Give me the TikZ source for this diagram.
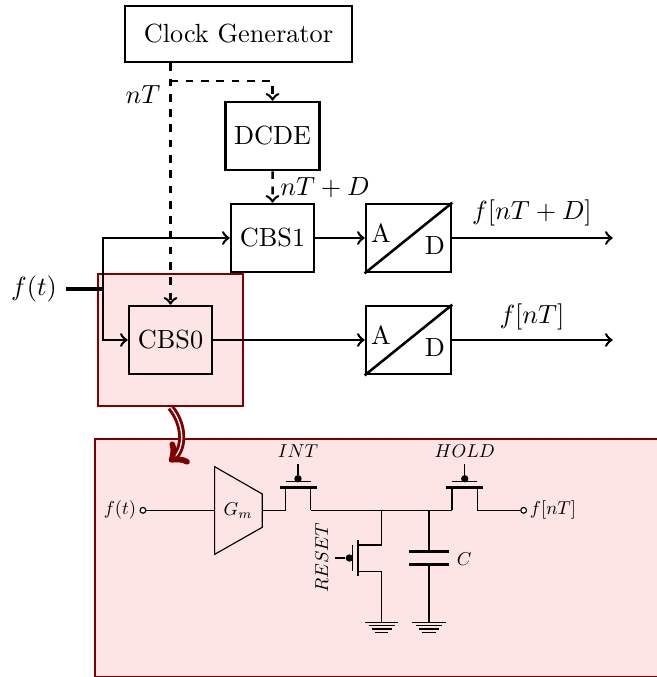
\documentclass[tikz,border=0pt]{standalone}
\usepackage{amsmath, amssymb}
\usepackage{tikz}
\definecolor{cbsfill}{RGB}{253,228,229}
\definecolor{cbsline}{RGB}{128,0,0}
\tikzset{
  every node/.style={scale=1.03},
  sig/.style={line width=1pt},
  block/.style={draw, sig, minimum width=1.112cm, minimum height=0.911cm, inner sep=0pt},
  redbox/.style={draw=cbsline, sig, fill=cbsfill},
  small/.style={scale=0.71},
  pin/.style={circle, draw, wire, fill=white, minimum size=2.2pt, inner sep=0pt},
  wire/.style={line width=0.45pt},
  oxide/.style={line width=1pt},
  plate/.style={line width=1.1pt},
  bubble/.style={circle, fill=black, minimum size=2.8pt, inner sep=0pt},
  gndline/.style={line width=0.4pt}
}
\begin{document}
\begin{tikzpicture}
\useasboundingbox (0,0) rectangle (9.062,9.338);
% Red panels
\fill[cbsfill] (1.31,0) rectangle (9.2,3.283);
\draw[cbsline, line width=0.45pt] (1.31,0) rectangle (9.2,3.283);
\node[redbox, minimum width=1.942cm, minimum height=1.768cm] (zoombox) at (2.352,4.648) {};

% Blocks
\node[block, minimum width=3.039cm, minimum height=0.75cm] (clock) at (3.29,8.869) {Clock Generator};
\node[block, minimum width=1.259cm] (dcde) at (3.759,7.462) {DCDE};
\node[block] (cbs1) at (3.759,6.055) {CBS1};
\node[block] (cbs0) at (2.352,4.648) {CBS0};
\node[block, minimum width=1.138cm] (adc1) at (5.634,6.055) {};
\node[block, minimum width=1.138cm] (adc0) at (5.634,4.648) {};
\foreach \name in {adc1,adc0} {
  \draw[sig] (\name.south west) -- (\name.north east);
  \node (\name-a) at ([shift={(-0.379,0.069)}]\name) {A};
  \node (\name-d) at ([shift={(0.366,-0.097)}]\name) {D};
}

% Clock paths
\coordinate (tap) at (clock.south -| cbs0);
\coordinate (branch) at (2.352,8.221);
\draw[sig, dashed, ->] (tap) -- (cbs0.north);
\draw[sig, dashed, ->] (branch) -| (dcde.north);
\draw[sig, dashed, ->] (dcde) -- (cbs1);
\node (ntlabel) at (1.972,8.028) {$nT$};
\node (ntdlabel) at (4.483,6.749) {$nT+D$};

% Signal paths
\node (input) at (0.469,5.352) {$f(t)$};
\coordinate (instart) at (0.91,5.352);
\coordinate (split) at (1.421,5.352);
\coordinate (out1) at (8.451,6.055);
\coordinate (out0) at (8.451,4.648);
\draw[line width=1.2pt] (instart) -- (split);
\draw[sig, ->] (split) |- (cbs1);
\draw[sig, ->] (split) |- (cbs0);
\draw[sig, ->] (cbs1) -- (adc1);
\draw[sig, ->] (cbs0) -- (adc0);
\draw[sig, ->] (adc1) -- (out1);
\draw[sig, ->] (adc0) -- (out0);
\node (out1label) at (7.338,6.4) {$f[nT+D]$};
\node (out0label) at (7.338,4.966) {$f[nT]$};

% Zoom arrow
\coordinate (zoomend) at (2.335,2.969);
\draw[cbsline, line width=1.15pt, double distance=0.5pt, ->] (zoombox.south) to[out=-50, in=40] (zoomend);

% Circuit
\node[pin] (vin) at (1.972,2.299) {};
\node[small] (vinlabel) at (1.655,2.299) {$f(t)$};
\node[pin] (vout) at (7.223,2.299) {};
\node[small] (voutlabel) at (7.628,2.299) {$f[nT]$};

% Gm
\coordinate (gmin) at (2.961,2.299);
\coordinate (gmout) at (3.618,2.299);
\draw[wire] (2.961,2.901) -- (3.618,2.524) -- (3.618,2.065) -- (2.961,1.692) -- cycle;
\node[small] (gm) at (3.283,2.299) {$G_m$};

% Pass switches
\foreach \name/\xa/\xb/\xc/\labeltext in {int/3.941/4.286/4.11/INT, hold/6.234/6.583/6.41/HOLD} {
  \coordinate (\name-s) at (\xa,2.299);
  \coordinate (\name-d) at (\xb,2.299);
  \draw[wire] (\name-s) -- (\xa,2.617);
  \draw[wire] (\name-d) -- (\xb,2.617);
  \draw[oxide] (\xa-0.08,2.617) -- (\xb+0.08,2.617);
  \draw[wire] (\xa,2.694) -- (\xb,2.694);
  \node[bubble] (\name-g) at (\xc,2.735) {};
  \draw[wire] (\name-g) -- (\xc,2.938);
  \node[small] (\name-label) at (\xc,3.117) {$\labeltext$};
}
\coordinate (resettop) at (5.265,2.299);
\coordinate (captop) at (5.917,2.299);
\draw[wire] (vin) -- (gmin);
\draw[wire] (gmout) -- (int-s);
\draw[wire] (int-d) -- (hold-s);
\draw[wire] (hold-d) -- (vout);

% Reset switch
\coordinate (resetgnd) at (5.265,0.754);
\draw[wire] (resettop) |- (4.935,1.821);
\draw[wire] (resetgnd) |- (4.935,1.458);
\draw[oxide] (4.935,1.393) -- (4.935,1.89);
\draw[wire] (4.859,1.458) -- (4.859,1.821);
\node[bubble] (resetg) at (4.818,1.641) {};
\draw[wire] (resetg) -- (4.621,1.641);
\node[small, rotate=90] (resetlabel) at (4.437,1.646) {$RESET$};

% Capacitor
\coordinate (capgnd) at (5.917,0.754);
\coordinate (capa) at (5.917,1.728);
\coordinate (capb) at (5.917,1.549);
\draw[wire] (captop) -- (capa);
\draw[wire] (capb) -- (capgnd);
\draw[plate] (5.641,1.728) -- (6.193,1.728);
\draw[plate] (5.641,1.549) -- (6.193,1.549);
\node[small] (caplabel) at (6.404,1.628) {$C$};

% Grounds
\foreach \g in {resetgnd,capgnd} {
  \draw[gndline] ([xshift=-0.23cm]\g) -- ([xshift=0.23cm]\g);
  \draw[gndline] ([shift={(-0.18,-0.046)}]\g) -- ([shift={(0.18,-0.046)}]\g);
  \draw[gndline] ([shift={(-0.138,-0.092)}]\g) -- ([shift={(0.138,-0.092)}]\g);
  \draw[gndline] ([shift={(-0.092,-0.138)}]\g) -- ([shift={(0.092,-0.138)}]\g);
}
\end{tikzpicture}
\end{document}
